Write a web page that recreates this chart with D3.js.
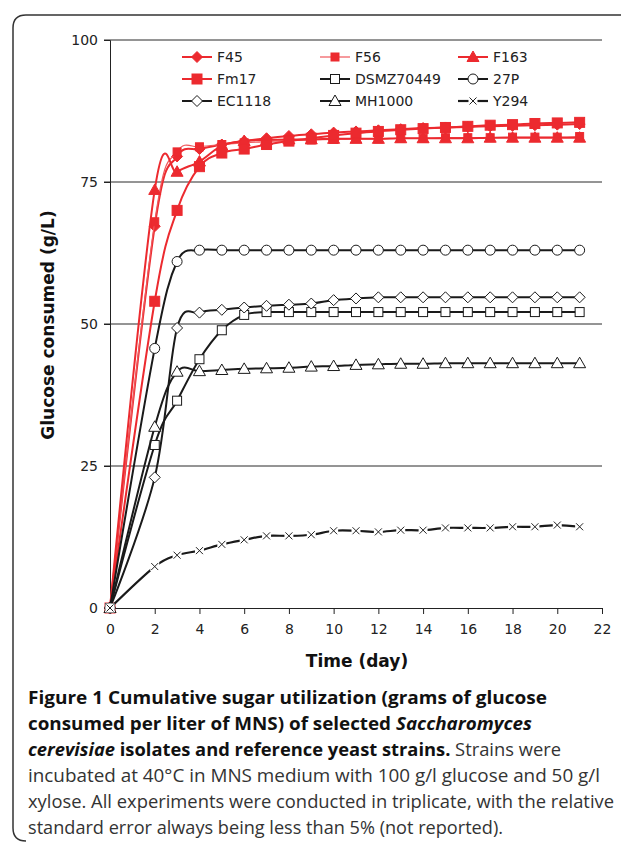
<!DOCTYPE html>
<html>
<head>
<meta charset="utf-8">
<script src="https://cdn.jsdelivr.net/npm/d3@7"></script>
<style>
  html, body { margin: 0; padding: 0; background: #fff; }
  svg { display: block; }
  .tick-label { font-family: "DejaVu Sans", sans-serif; font-size: 14px; fill: #222; }
  .axis-title { font-family: "DejaVu Sans", sans-serif; font-size: 17px; font-weight: bold; fill: #111; }
  .legend-text { font-family: "DejaVu Sans", sans-serif; font-size: 14px; fill: #222; }
  .caption { font-family: "Open Sans", "Noto Sans", sans-serif; font-size: 18px; fill: #333; }
</style>
</head>
<body>
<svg id="chart" width="621" height="847"></svg>
<script>
// Sampling days (no day-1 reading)
const DAYS = [0, 2, 3, 4, 5, 6, 7, 8, 9, 10, 11, 12, 13, 14, 15, 16, 17, 18, 19, 20, 21];

// Glucose consumed (g/L) per strain
const F45      = [0, 67.2, 79.5, 80.8, 81.6, 82.2, 82.7, 83.1, 83.4, 83.7, 83.9, 84.1, 84.3, 84.5, 84.6, 84.7, 84.8, 84.9, 85.0, 85.1, 85.2];
const F56      = [0, 68.0, 80.3, 81.2, 81.6, 81.9, 82.1, 82.3, 82.4, 82.5, 82.6, 82.6, 82.7, 82.7, 82.8, 82.8, 82.8, 82.9, 82.9, 82.9, 83.0];
const F163     = [0, 73.6, 76.8, 78.6, 81.4, 82.2, 82.4, 82.5, 82.5, 82.6, 82.6, 82.6, 82.7, 82.7, 82.7, 82.7, 82.8, 82.8, 82.8, 82.8, 82.8];
const FM17     = [0, 54.0, 70.0, 77.7, 80.1, 80.8, 81.6, 82.2, 82.7, 83.2, 83.6, 83.9, 84.2, 84.4, 84.6, 84.8, 85.0, 85.1, 85.3, 85.4, 85.5];
const DSMZ     = [0, 28.7, 36.5, 43.8, 48.9, 51.6, 52.1, 52.1, 52.1, 52.1, 52.1, 52.1, 52.1, 52.1, 52.1, 52.1, 52.1, 52.1, 52.1, 52.1, 52.1];
const P27      = [0, 45.7, 61.0, 63.0, 63.0, 63.0, 63.0, 63.0, 63.0, 63.0, 63.0, 63.0, 63.0, 63.0, 63.0, 63.0, 63.0, 63.0, 63.0, 63.0, 63.0];
const EC1118   = [0, 23.0, 49.3, 52.0, 52.5, 52.9, 53.2, 53.4, 53.6, 54.2, 54.5, 54.7, 54.7, 54.7, 54.7, 54.7, 54.7, 54.7, 54.7, 54.7, 54.7];
const MH1000   = [0, 31.9, 41.6, 41.7, 41.9, 42.1, 42.2, 42.3, 42.5, 42.6, 42.8, 42.9, 43.0, 43.0, 43.1, 43.1, 43.1, 43.1, 43.1, 43.1, 43.1];
const Y294     = [0, 7.3, 9.3, 10.1, 11.2, 12.0, 12.7, 12.7, 12.9, 13.6, 13.6, 13.4, 13.7, 13.7, 14.1, 14.1, 14.1, 14.3, 14.3, 14.6, 14.3];

const X_TICKS = [0, 2, 4, 6, 8, 10, 12, 14, 16, 18, 20, 22];
const Y_TICKS = [0, 25, 50, 75, 100];

const RED = "#ec2a2f";
const series = [
  { name: "F45", values: F45, color: RED, marker: "diamond", fill: RED, width: 2 },
  { name: "F56", values: F56, color: "#f0575b", marker: "square", fill: RED, width: 1.2, size: 8 },
  { name: "F163", values: F163, color: RED, marker: "triangle", fill: RED, width: 2 },
  { name: "Fm17", values: FM17, color: RED, marker: "square", fill: RED, width: 2, size: 10 },
  { name: "DSMZ70449", values: DSMZ, color: "#1a1a1a", marker: "square", fill: "#fff", width: 2, size: 9 },
  { name: "27P", values: P27, color: "#1a1a1a", marker: "circle", fill: "#fff", width: 2 },
  { name: "EC1118", values: EC1118, color: "#1a1a1a", marker: "diamond", fill: "#fff", width: 2 },
  { name: "MH1000", values: MH1000, color: "#1a1a1a", marker: "triangle", fill: "#fff", width: 2 },
  { name: "Y294", values: Y294, color: "#1a1a1a", marker: "cross", fill: "#fff", width: 2.2 },
];

const svg = d3.select("#chart");

// figure frame (rounded left corners)
svg.append("path")
  .attr("d", "M621,15 L26,15 Q13,15 13,28 L13,828 Q13,841 26,841")
  .attr("fill", "none").attr("stroke", "#333").attr("stroke-width", 1.5);

const x = d3.scaleLinear().domain([0, 22]).range([110, 602]);
const y = d3.scaleLinear().domain([0, 100]).range([608, 40]);

// gridlines
svg.append("g").selectAll("line").data(Y_TICKS.filter((d) => d > 0)).join("line")
  .attr("x1", 104).attr("x2", x(22))
  .attr("y1", (d) => y(d)).attr("y2", (d) => y(d))
  .attr("stroke", "#2a2a2a").attr("stroke-width", 1);

// y axis
const yAxis = svg.append("g").attr("transform", `translate(${x(0)},0)`)
  .call(d3.axisLeft(y).tickValues(Y_TICKS).tickSize(6).tickPadding(6));
yAxis.select(".domain").attr("stroke", "#222");
yAxis.selectAll(".tick line").attr("stroke", "#222");
yAxis.selectAll("text").attr("class", "tick-label").attr("font-family", null).attr("font-size", null);

// x axis
const xAxis = svg.append("g").attr("transform", `translate(0,${y(0)})`)
  .call(d3.axisBottom(x).tickValues(X_TICKS).tickSize(6).tickSizeOuter(0).tickPadding(10));
xAxis.select(".domain").attr("stroke", "#222");
xAxis.selectAll(".tick line").attr("stroke", "#222");
xAxis.selectAll("text").attr("class", "tick-label").attr("font-family", null).attr("font-size", null);

svg.append("text").attr("class", "axis-title")
  .attr("x", 357).attr("y", 667).attr("text-anchor", "middle").text("Time (day)");
svg.append("text").attr("class", "axis-title")
  .attr("transform", "translate(54,325) rotate(-90)").attr("text-anchor", "middle")
  .text("Glucose consumed (g/L)");

function drawMarker(g, type, cx, cy, s) {
  const size = s.size || 10;
  const common = (el) => el.attr("fill", s.fill).attr("stroke", s.color === "#f0575b" ? RED : s.color).attr("stroke-width", 1);
  if (type === "diamond") {
    const r = 5.5;
    common(g.append("path").attr("d", `M${cx},${cy - r}L${cx + r},${cy}L${cx},${cy + r}L${cx - r},${cy}Z`));
  } else if (type === "square") {
    const h = size / 2;
    common(g.append("rect").attr("x", cx - h).attr("y", cy - h).attr("width", size).attr("height", size));
  } else if (type === "triangle") {
    const r = 6;
    common(g.append("path").attr("d", `M${cx},${cy - r}L${cx + r},${cy + r * 0.75}L${cx - r},${cy + r * 0.75}Z`));
  } else if (type === "circle") {
    common(g.append("circle").attr("cx", cx).attr("cy", cy).attr("r", 5));
  } else if (type === "cross") {
    g.append("rect").attr("x", cx - 4.5).attr("y", cy - 4.5).attr("width", 9).attr("height", 9).attr("fill", "#fff");
    const r = 3.5;
    g.append("path").attr("d", `M${cx - r},${cy - r}L${cx + r},${cy + r}M${cx - r},${cy + r}L${cx + r},${cy - r}`)
      .attr("stroke", "#222").attr("stroke-width", 1).attr("fill", "none");
  }
}

const line = d3.line()
  .x((d) => x(d[0])).y((d) => y(d[1]))
  .curve(d3.curveCardinal.tension(0));

const plot = svg.append("g");
series.forEach((s) => {
  const pts = DAYS.map((d, i) => [d, s.values[i]]);
  plot.append("path").datum(pts).attr("d", line)
    .attr("fill", "none").attr("stroke", s.color).attr("stroke-width", s.width);
  const mg = plot.append("g");
  pts.forEach((p) => drawMarker(mg, s.marker, x(p[0]), y(p[1]), s));
});

// legend, 3 x 3
const legendCols = [182, 320, 458];
const legendRows = [57, 79, 101];
series.forEach((s, i) => {
  const lx = legendCols[i % 3];
  const ly = legendRows[Math.floor(i / 3)];
  const g = svg.append("g");
  g.append("line").attr("x1", lx).attr("x2", lx + 30).attr("y1", ly).attr("y2", ly)
    .attr("stroke", s.color).attr("stroke-width", s.width);
  drawMarker(g, s.marker, lx + 15, ly, s);
  g.append("text").attr("class", "legend-text").attr("x", lx + 35).attr("y", ly + 5).text(s.name);
});

// caption
const CAPTION = [
  { y: 704, len: 519, parts: [["Figure 1 Cumulative sugar utilization (grams of glucose", "bold"]] },
  { y: 730, len: 504, parts: [["consumed per liter of MNS) of selected ", "bold"], ["Saccharomyces", "bolditalic"]] },
  { y: 756, len: 533, parts: [["cerevisiae", "bolditalic"], [" isolates and reference yeast strains.", "bold"], [" Strains were", ""]] },
  { y: 782, len: 572, parts: [["incubated at 40°C in MNS medium with 100 g/l glucose and 50 g/l", ""]] },
  { y: 808, len: 586, parts: [["xylose. All experiments were conducted in triplicate, with the relative", ""]] },
  { y: 834, len: 475, parts: [["standard error always being less than 5% (not reported).", ""]] },
];
CAPTION.forEach((ln) => {
  const t = svg.append("text").attr("class", "caption").attr("x", 28).attr("y", ln.y)
    .attr("textLength", ln.len).attr("lengthAdjust", "spacingAndGlyphs");
  ln.parts.forEach(([txt, st]) => {
    const sp = t.append("tspan").text(txt);
    if (st.includes("bold")) sp.attr("font-weight", "bold").attr("fill", "#111");
    if (st.includes("italic")) sp.attr("font-style", "italic");
  });
});
</script>
</body>
</html>
